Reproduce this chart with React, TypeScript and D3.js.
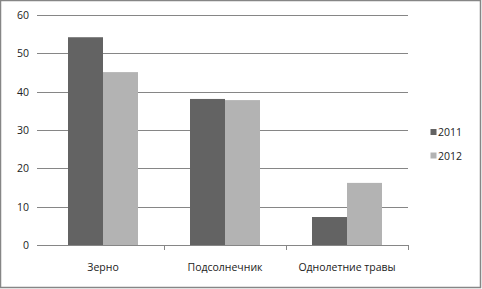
import React from "react";
import * as d3 from "d3";

const categories = ["Зерно", "Подсолнечник", "Однолетние травы"];
const series = ["2011", "2012"];
const values2011 = [54.2, 38.1, 7.3];
const values2012 = [45.1, 37.8, 16.2];
const yTicks = [0, 10, 20, 30, 40, 50, 60];
const colors = ["#636363", "#b3b3b3"];

export default function App() {
  const W = 482, H = 289;
  const left = 42, right = 408, top = 15, bottom = 245;
  const x = d3.scaleBand<string>().domain(categories).range([left, right]);
  const y = d3.scaleLinear().domain([0, 60]).range([bottom, top]);
  const inner = d3.scaleBand<string>().domain(series).range([0, 70]);
  const font = "'Open Sans', 'Noto Sans', sans-serif";
  const data = [values2011, values2012];
  return (
    <svg width={W} height={H} style={{ position: "absolute", left: 0, top: 0 }} fontFamily={font}>
      <rect x={0} y={0} width={W} height={H} fill="#fff" />
      <rect x={0.5} y={0.5} width={480} height={287} fill="none" stroke="#868686" strokeWidth={1.5} />
      {yTicks.map((t) => (
        <g key={t}>
          <line x1={37} x2={right} y1={Math.round(y(t)) + 0.5} y2={Math.round(y(t)) + 0.5} stroke="#868686" />
          <text x={29} y={y(t) + 4} textAnchor="end" fontSize={10.5} fill="#222">{t}</text>
        </g>
      ))}
      {categories.map((c, i) =>
        series.map((s, j) => {
          const bx = (x(c) as number) + x.bandwidth() / 2 - 35 + (inner(s) as number);
          return (
            <rect key={c + s} x={bx} y={y(data[j][i])} width={inner.bandwidth()} height={bottom - y(data[j][i])} fill={colors[j]} />
          );
        })
      )}
      <line x1={37} x2={right} y1={bottom + 0.5} y2={bottom + 0.5} stroke="#868686" />
      {categories.slice(1).concat(["end"]).map((c, i) => {
        const tx = Math.round(left + x.bandwidth() * (i + 1)) + 0.5;
        return <line key={c} x1={tx} x2={tx} y1={bottom} y2={bottom + 5} stroke="#868686" />;
      })}
      {categories.map((c) => (
        <text key={c} x={(x(c) as number) + x.bandwidth() / 2} y={271} textAnchor="middle" fontSize={10.5} fill="#222">{c}</text>
      ))}
      {series.map((s, j) => (
        <g key={s}>
          <rect x={430.5} y={129 + j * 23.5} width={6} height={6} fill={colors[j]} />
          <text x={438} y={136 + j * 23.5} fontSize={10.5} fill="#222">{s}</text>
        </g>
      ))}
    </svg>
  );
}
